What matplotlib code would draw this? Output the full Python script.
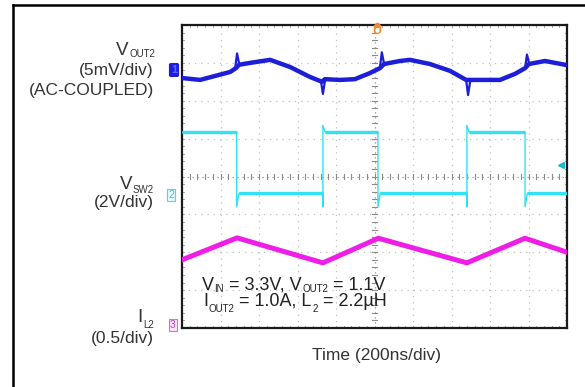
import numpy as np
import matplotlib
matplotlib.use("Agg")
import matplotlib.pyplot as plt
from matplotlib.lines import Line2D

plt.rcParams['font.family'] = ['Liberation Sans', 'DejaVu Sans']

# ---------------- data (in scope divisions) ----------------
# Output voltage ripple (ch1), base trace
vout_t = [0.00, 0.47, 1.25, 1.40, 1.48, 1.77, 2.29, 2.81, 3.32, 3.64, 3.71,
          4.10, 4.49, 4.88, 5.14, 5.25, 5.66, 5.92, 6.44, 6.96, 7.38, 7.48,
          7.87, 8.26, 8.65, 8.91, 9.01, 9.43, 10.00]
vout_v = [6.60, 6.55, 6.76, 6.86, 6.95, 7.00, 7.08, 6.89, 6.63, 6.50, 6.57,
          6.55, 6.57, 6.73, 6.86, 6.97, 7.05, 7.08, 6.97, 6.79, 6.55, 6.55,
          6.55, 6.55, 6.71, 6.86, 6.97, 7.05, 6.94]
# switching spikes on the output trace
spike_t = [1.43, 3.66, 5.19, 7.43, 8.96]
spike_v = [7.25, 6.18, 7.28, 6.15, 7.22]

# Switch node (ch2)
sw_fall = [1.42, 5.09, 8.91]
sw_rise = [3.66, 7.40]
sw_high = 5.17
sw_low = 3.56
sw_dip = 3.20
sw_peak = 5.35

# Inductor current (ch3)
il_t = [0.00, 1.43, 3.66, 5.10, 7.40, 8.91, 10.00]
il_v = [1.80, 2.38, 1.72, 2.37, 1.72, 2.37, 2.00]

# text: runs of (text, is_subscript)
label_vout = [[('V', False), ('OUT2', True)], '(5mV/div)', '(AC-COUPLED)']
label_vsw = [[('V', False), ('SW2', True)], '(2V/div)']
label_il = [[('I', False), ('L2', True)], '(0.5/div)']
note_line1 = [('V', False), ('IN', True), ('= 3.3V, V', False), ('OUT2', True), ('= 1.1V', False)]
note_line2 = [('I', False), ('OUT2', True), ('= 1.0A, L', False), ('2', True), ('= 2.2µH', False)]
xlabel = 'Time (200ns/div)'

C_BLUE = '#1c1ed8'
C_CYAN = '#33e2f0'
C_MAG = '#ee1ee6'
C_ORANGE = '#f08a2a'
TXT = '#333333'
FS = 12.5
FS_MAIN = 13.5
FS_SUB = 7.0

W, H = 585, 387
fig = plt.figure(figsize=(W / 100, H / 100), dpi=100)
fig.patch.set_facecolor('white')
renderer = fig.canvas.get_renderer()


def fx(px):
    return px / W


def fy(py):
    return 1 - py / H


def draw_runs(x_px, y_px, runs, ha='left', color=TXT, main_size=FS, sub_size=FS_SUB,
              sub_drop=3, gap=3):
    texts = []
    widths = []
    for s, sub in runs:
        t = fig.text(0, 0, s, fontsize=sub_size if sub else main_size, color=color,
                     ha='left', va='baseline')
        w = t.get_window_extent(renderer).width
        texts.append((t, sub))
        widths.append(w)
    total = 0
    offs = []
    for i, (w, (t, sub)) in enumerate(zip(widths, texts)):
        if i > 0 and not sub and texts[i - 1][1]:
            total += gap
        elif i > 0 and sub:
            total += 0.5
        offs.append(total)
        total += w
    start = x_px - total if ha == 'right' else x_px
    for (t, sub), o in zip(texts, offs):
        t.set_position((fx(start + o), fy(y_px + (sub_drop if sub else 0))))


ax = fig.add_axes([fx(182), fy(328), fx(567) - fx(182), fy(25) - fy(328)])
ax.set_xlim(0, 10)
ax.set_ylim(0, 8)
ax.set_xticks([])
ax.set_yticks([])
for s in ax.spines.values():
    s.set_linewidth(1.6)
    s.set_color('#1a1a1a')

# grid
for gx in range(1, 10):
    if gx != 5:
        ax.axvline(gx, color='#c0c0c0', lw=0.9, ls=(0, (1, 4)), zorder=0)
for gy in range(1, 8):
    if gy != 4:
        ax.axhline(gy, color='#c0c0c0', lw=0.9, ls=(0, (1, 4)), zorder=0)
ax.axvline(5, color='#909090', lw=0.9, ls=(0, (1, 3)), zorder=0)
ax.axhline(4, color='#909090', lw=0.9, ls=(0, (1, 3)), zorder=0)
for t in np.arange(0.2, 10, 0.2):
    ax.plot([t, t], [3.93, 4.07], color='#8a8a8a', lw=0.8, zorder=0)
    ax.plot([t, t], [0, 0.06], color='#a8a8a8', lw=0.7, zorder=0)
    ax.plot([t, t], [7.94, 8], color='#a8a8a8', lw=0.7, zorder=0)
for t in np.arange(0.2, 8, 0.2):
    ax.plot([4.93, 5.07], [t, t], color='#8a8a8a', lw=0.8, zorder=0)
    ax.plot([0, 0.06], [t, t], color='#a8a8a8', lw=0.7, zorder=0)
    ax.plot([9.94, 10], [t, t], color='#a8a8a8', lw=0.7, zorder=0)

# ch3 inductor current
ax.plot(il_t, il_v, color=C_MAG, lw=3.6, solid_joinstyle='round', zorder=3)

# ch2 switch node
pts_t, pts_v = [0.0], [sw_high]
edges = sorted([(t, 'f') for t in sw_fall] + [(t, 'r') for t in sw_rise])
for t, kind in edges:
    if kind == 'f':
        pts_t += [t, t, t + 0.06]
        pts_v += [sw_high, sw_dip, sw_low]
    else:
        pts_t += [t, t, t, t + 0.06]
        pts_v += [sw_low, sw_dip, sw_peak, sw_high]
pts_t.append(10.0)
pts_v.append(sw_low if edges[-1][1] == 'f' else sw_high)
ax.plot(pts_t, pts_v, color=C_CYAN, lw=1.0, zorder=3)
bounds = [0.0] + [e[0] for e in edges] + [10.0]
level = sw_high
for a, b in zip(bounds[:-1], bounds[1:]):
    ax.plot([a + 0.06 if a > 0 else a, b], [level, level], color=C_CYAN, lw=2.4,
            solid_capstyle='butt', zorder=3)
    level = sw_low if level == sw_high else sw_high

# ch1 output ripple
ax.plot(vout_t, vout_v, color=C_BLUE, lw=3.2, solid_joinstyle='round', zorder=4)
for st, sv in zip(spike_t, spike_v):
    b0 = np.interp(st - 0.05, vout_t, vout_v)
    b1 = np.interp(st + 0.06, vout_t, vout_v)
    ax.plot([st - 0.05, st, st + 0.06], [b0, sv, b1], color=C_BLUE, lw=1.6, zorder=4)

# markers
ax.text(5.07, 7.83, 'U', color=C_ORANGE, fontsize=9, fontweight='bold',
        ha='center', va='center', clip_on=False, zorder=5)
ax.plot([5.07], [8.0], marker='o', ms=3, color=C_ORANGE, clip_on=False, zorder=5)
ax.plot([9.85], [4.3], marker='<', ms=4, color='#20b8c8', clip_on=False, zorder=5)

# channel tags left of the screen
fig.text(fx(174), fy(70), '1', color='#6060ff', fontsize=8, fontweight='bold',
         ha='center', va='center',
         bbox=dict(boxstyle='round,pad=0.12', fc=C_BLUE, ec=C_BLUE, lw=1))
fig.text(fx(171), fy(195), '2', color='#40c0d0', fontsize=7.5,
         ha='center', va='center',
         bbox=dict(boxstyle='square,pad=0.12', fc='#e8fafc', ec='#60d0e0', lw=0.8))
fig.text(fx(173), fy(325), '3', color='#c040c0', fontsize=7.5,
         ha='center', va='center',
         bbox=dict(boxstyle='square,pad=0.12', fc='#fbe8fb', ec='#d070d0', lw=0.8))

# left labels
draw_runs(155, 55, label_vout[0], ha='right', main_size=FS_MAIN, sub_drop=2, gap=0)
fig.text(fx(154), fy(70), label_vout[1], fontsize=FS, color=TXT, ha='right', va='center')
fig.text(fx(154), fy(90), label_vout[2], fontsize=FS, color=TXT, ha='right', va='center')
draw_runs(154, 189, label_vsw[0], ha='right', main_size=FS_MAIN, sub_drop=4, gap=0)
fig.text(fx(154), fy(203), label_vsw[1], fontsize=FS, color=TXT, ha='right', va='center')
draw_runs(154, 322, label_il[0], ha='right', main_size=FS_MAIN, sub_drop=6, gap=0)
fig.text(fx(154), fy(339), label_il[1], fontsize=FS, color=TXT, ha='right', va='center')

# condition note inside the screen
draw_runs(202, 290, note_line1, color='#222222', main_size=13, sub_drop=2, gap=5)
draw_runs(203, 306, note_line2, color='#222222', main_size=13, sub_drop=6, gap=5)

# x label
fig.text(fx(377), fy(360), xlabel, fontsize=FS, color=TXT, ha='center', va='baseline')

# outer frame (left and top edges)
fig.add_artist(Line2D([fx(13), fx(13)], [fy(5), 0], color='black', lw=1.8,
                      transform=fig.transFigure))
fig.add_artist(Line2D([fx(13), 1], [fy(5), fy(5)], color='black', lw=1.8,
                      transform=fig.transFigure))

fig.savefig('out.png', dpi=100, facecolor='white')
